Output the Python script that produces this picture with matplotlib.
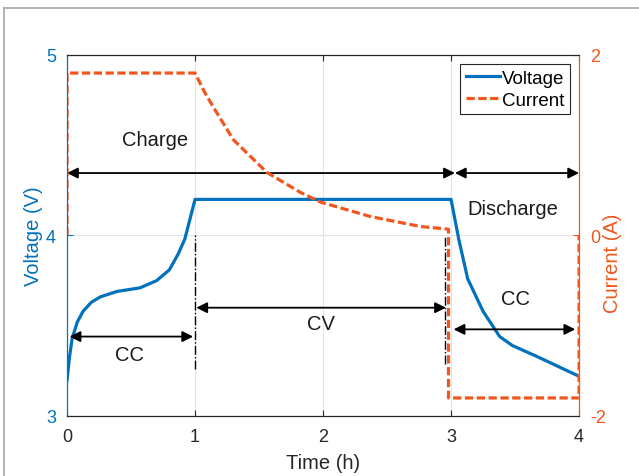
import matplotlib.pyplot as plt
from matplotlib.lines import Line2D

plt.rcParams['font.family'] = ['Liberation Sans', 'DejaVu Sans']
plt.rcParams['axes.unicode_minus'] = False

# voltage trace (h, V)
t_volt = [0, 0.02, 0.04, 0.08, 0.125, 0.19, 0.26, 0.39, 0.57, 0.70, 0.80, 0.87,
          0.92, 0.96, 1.0, 3.0, 3.06, 3.13, 3.25, 3.38, 3.48, 3.67, 3.85, 4.0]
voltage = [3.2, 3.33, 3.43, 3.52, 3.58, 3.63, 3.66, 3.69, 3.71, 3.75, 3.81, 3.90,
           3.98, 4.09, 4.2, 4.2, 3.98, 3.76, 3.58, 3.44, 3.39, 3.33, 3.27, 3.22]

# current trace (h, A)
t_curr = [0, 0, 1.0, 1.07, 1.14, 1.30, 1.56, 1.82, 1.98, 2.37, 2.76, 2.98, 2.98, 4.0, 4.0]
current = [0, 1.8, 1.8, 1.6, 1.43, 1.06, 0.70, 0.48, 0.37, 0.21, 0.10, 0.07, -1.8, -1.8, 0]

x_ticks = [0, 1, 2, 3, 4]
v_ticks = [3, 4, 5]
i_ticks = [-2, 0, 2]

blue = '#0072BD'
orange = '#F2561D'
dark = '#262626'

fig = plt.figure(figsize=(6.39, 4.77), dpi=100)
ax = fig.add_axes([0.1049, 0.1258, 0.8013, 0.7568])
ax2 = ax.twinx()

ln_v, = ax.plot(t_volt, voltage, color=blue, lw=2.3, label='Voltage')
ln_i, = ax2.plot(t_curr, current, color=orange, lw=2.3, dashes=(2.6, 1.1), label='Current')

ax.set_xlim(0, 4)
ax.set_ylim(3, 5)
ax2.set_ylim(-2, 2)
ax.set_xticks(x_ticks)
ax.set_yticks(v_ticks)
ax2.set_yticks(i_ticks)

ax.grid(True, color='#e3e3e3', lw=0.8)
ax.set_axisbelow(True)

ax.tick_params(axis='x', direction='in', length=4, colors=dark, labelsize=13, pad=9,
               top=True, labelcolor=dark)
ax.tick_params(axis='y', direction='in', length=4, colors=blue, labelsize=13, pad=8)
ax2.tick_params(axis='y', direction='in', length=4, colors=orange, labelsize=13, pad=8)

for a in (ax, ax2):
    a.spines['top'].set_color(dark)
    a.spines['bottom'].set_color(dark)
    a.spines['left'].set_color(blue)
    a.spines['right'].set_color(orange)

ax.set_xlabel('Time (h)', fontsize=14.5, color=dark)
ax.xaxis.set_label_coords(0.5, -0.103)
ax.set_ylabel('Voltage (V)', fontsize=14.5, color=blue)
ax.yaxis.set_label_coords(-0.047, 0.5)
ax2.set_ylabel('Current (A)', fontsize=14.5, color=orange)
ax2.yaxis.set_label_coords(1.047, 0.427)

# phase markers
arrow_kw = dict(arrowstyle='<|-|>', color='black', lw=1.3, mutation_scale=16,
                shrinkA=0, shrinkB=0)
ax.annotate('', xy=(0, 4.346), xytext=(3.03, 4.346), arrowprops=arrow_kw)
ax.annotate('', xy=(3.03, 4.346), xytext=(4.0, 4.346), arrowprops=arrow_kw)
ax.annotate('', xy=(0.02, 3.44), xytext=(0.985, 3.44), arrowprops=arrow_kw)
ax.annotate('', xy=(1.01, 3.6), xytext=(2.96, 3.6), arrowprops=arrow_kw)
ax.annotate('', xy=(3.02, 3.48), xytext=(3.97, 3.48), arrowprops=arrow_kw)

ax.plot([1, 1], [3.26, 4.0], color='black', lw=1.0, ls='-.')
ax.plot([2.95, 2.95], [3.29, 3.99], color='black', lw=1.0, ls='-.')

txt_kw = dict(fontsize=14.5, color='#1a1a1a', ha='center', va='center')
ax.text(0.69, 4.53, 'Charge', **txt_kw)
ax.text(3.48, 4.15, 'Discharge', **txt_kw)
ax.text(0.49, 3.34, 'CC', **txt_kw)
ax.text(1.98, 3.51, 'CV', **txt_kw)
ax.text(3.5, 3.65, 'CC', **txt_kw)

leg = ax2.legend([ln_v, ln_i], ['Voltage', 'Current'], loc='upper right',
                 bbox_to_anchor=(0.983, 0.975), fontsize=13.5, handlelength=1.8,
                 handletextpad=0.15, borderpad=0.3, labelspacing=0.25,
                 fancybox=False, framealpha=1, edgecolor=dark, borderaxespad=0)
leg.get_frame().set_linewidth(0.8)

# outer frame
fig.add_artist(Line2D([4 / 639, 1], [1 - 9 / 477, 1 - 9 / 477], color='#a8a8a8', lw=1.2,
                      transform=fig.transFigure))
fig.add_artist(Line2D([4 / 639, 4 / 639], [0, 1 - 9 / 477], color='#a8a8a8', lw=1.2,
                      transform=fig.transFigure))

fig.savefig('out.png', dpi=100)
